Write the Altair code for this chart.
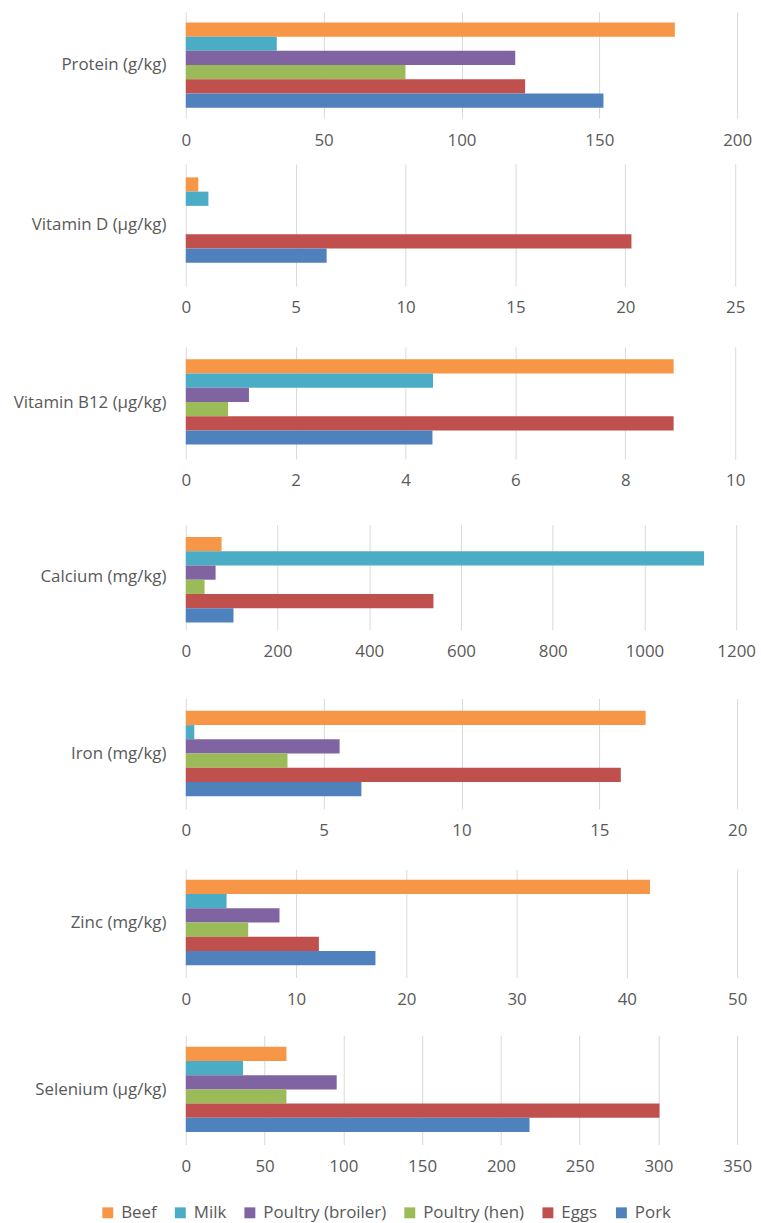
import altair as alt
import pandas as pd

# Food sources and their colours (top to bottom within each group)
series = ["Beef", "Milk", "Poultry (broiler)", "Poultry (hen)", "Eggs", "Pork"]
colors = ["#F79646", "#4BACC6", "#8064A2", "#9BBB59", "#C0504D", "#4F81BD"]

nutrients = [
    "Protein (g/kg)",
    "Vitamin D (µg/kg)",
    "Vitamin B12 (µg/kg)",
    "Calcium (mg/kg)",
    "Iron (mg/kg)",
    "Zinc (mg/kg)",
    "Selenium (µg/kg)",
]

# Nutrient content per source, in the order of `series`
protein = [177.4, 33.0, 119.5, 79.7, 123.1, 151.5]
vitamin_d = [0.57, 1.03, None, None, 20.28, 6.41]
vitamin_b12 = [8.88, 4.50, 1.15, 0.77, 8.88, 4.49]
calcium = [78, 1130, 65, 41, 540, 104]
iron = [16.68, 0.31, 5.58, 3.69, 15.78, 6.37]
zinc = [42.1, 3.7, 8.5, 5.66, 12.07, 17.2]
selenium = [63.9, 36.3, 95.8, 63.9, 300.7, 218.2]
values = [protein, vitamin_d, vitamin_b12, calcium, iron, zinc, selenium]

# Axis ranges and tick steps per panel
axis_max = [200, 25, 10, 1200, 20, 50, 350]
axis_step = [50, 5, 2, 200, 5, 10, 50]

# Panel geometry: width, height, bar-group height, gap below each panel
label_extent = 187
plot_width = [555, 553, 553, 554, 555, 555, 555]
plot_height = [107, 123, 113, 106, 111, 109, 110]
group_height = [86, 96, 88, 81, 86, 88, 87]
gap_after = [16, 31, 36, 39, 31, 28]

FONT = "Open Sans"
FONT_SIZE = 17
TEXT = "#595959"
GRID = "#D9D9D9"


def panel(i):
    df = pd.DataFrame({
        "nutrient": nutrients[i],
        "series": series,
        "value": values[i],
    }).dropna()
    ticks = list(range(0, axis_max[i] + 1, axis_step[i]))
    pad_outer = (plot_height[i] / group_height[i] - 1) / 2
    return alt.Chart(df).mark_bar().encode(
        x=alt.X(
            "value:Q",
            scale=alt.Scale(domain=[0, axis_max[i]], nice=False, zero=True),
            axis=alt.Axis(
                values=ticks, format="d", title=None, grid=True,
                gridColor=GRID, domain=False, ticks=False, labelPadding=14,
                labelFontSize=FONT_SIZE, labelColor=TEXT, labelFont=FONT,
                labelFlush=False,
            ),
        ),
        y=alt.Y(
            "nutrient:N",
            scale=alt.Scale(paddingInner=0, paddingOuter=pad_outer),
            axis=alt.Axis(
                title=None, ticks=False, domain=False, grid=False,
                labelPadding=20, labelFontSize=FONT_SIZE, labelColor=TEXT,
                labelFont=FONT, labelLimit=300,
                minExtent=label_extent, maxExtent=label_extent,
            ),
        ),
        yOffset=alt.YOffset(
            "series:N", sort=series,
            scale=alt.Scale(domain=series, paddingInner=0, paddingOuter=0),
        ),
        color=alt.Color(
            "series:N", sort=series,
            scale=alt.Scale(domain=series, range=colors),
            legend=alt.Legend(
                title=None, orient="none", direction="horizontal",
                legendX=-87, legendY=1200, symbolType="square",
                symbolSize=121, symbolStrokeWidth=0,
                labelFontSize=FONT_SIZE, labelColor=TEXT, labelFont=FONT,
                columnPadding=15, labelOffset=5, padding=0,
            ),
        ),
    ).properties(width=plot_width[i], height=plot_height[i])


panels = [panel(i) for i in range(len(nutrients))]

# Stack the panels from the bottom up so each gap can differ
chart = panels[-1]
for i in range(len(panels) - 2, -1, -1):
    chart = alt.vconcat(panels[i], chart, spacing=gap_after[i])

chart = chart.properties(
    padding={"left": 0, "top": 8, "right": 5, "bottom": 5},
    background="white",
).configure_view(stroke=None)

chart.save("out.html", embed_options={"renderer": "svg", "actions": False})
